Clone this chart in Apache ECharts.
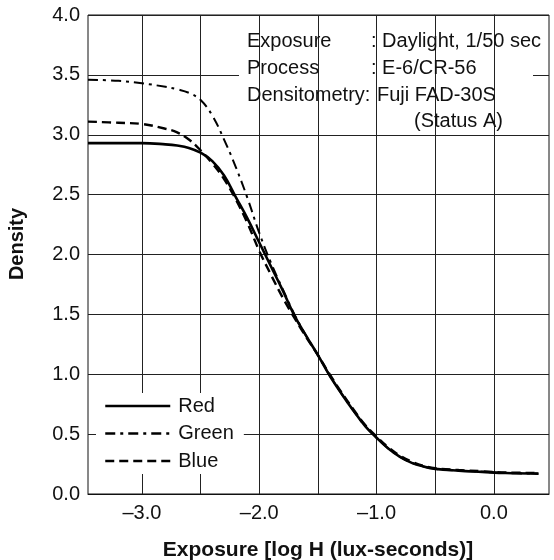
<!DOCTYPE html>
<html>
<head>
<meta charset="utf-8">
<script src="https://cdn.jsdelivr.net/npm/echarts@6/dist/echarts.min.js"></script>
<style>
html,body{margin:0;padding:0;background:#fff;}
#c{width:554px;height:560px;}
</style>
</head>
<body>
<div id="c"></div>
<script>
// ---- data ----
const xVals    = [-3.46, -3.2, -3.0, -2.8, -2.7, -2.6, -2.5, -2.4, -2.3, -2.2, -2.1, -2.0, -1.9, -1.8, -1.7, -1.6, -1.5, -1.4, -1.3, -1.2, -1.1, -1.0, -0.9, -0.8, -0.7, -0.6, -0.5, -0.3, -0.1, 0.1, 0.38];
const redVals  = [2.93, 2.93, 2.93, 2.92, 2.91, 2.89, 2.85, 2.78, 2.66, 2.48, 2.30, 2.10, 1.90, 1.70, 1.49, 1.32, 1.16, 0.99, 0.84, 0.70, 0.57, 0.47, 0.38, 0.31, 0.26, 0.23, 0.21, 0.195, 0.185, 0.175, 0.17];
const greenVals= [3.46, 3.45, 3.43, 3.40, 3.38, 3.35, 3.29, 3.16, 2.96, 2.73, 2.47, 2.18, 1.93, 1.71, 1.50, 1.32, 1.16, 0.99, 0.84, 0.70, 0.57, 0.47, 0.38, 0.31, 0.26, 0.23, 0.21, 0.195, 0.185, 0.175, 0.17];
const blueVals = [3.11, 3.10, 3.09, 3.05, 3.02, 2.96, 2.87, 2.76, 2.63, 2.46, 2.26, 2.03, 1.83, 1.64, 1.47, 1.31, 1.16, 1.00, 0.85, 0.71, 0.58, 0.48, 0.39, 0.32, 0.27, 0.235, 0.215, 0.20, 0.19, 0.18, 0.175];
const seriesNames = ['Red', 'Green', 'Blue'];
const xGridTicks  = [-3.0, -2.5, -2.0, -1.5, -1.0, -0.5, 0.0];
const xLabelTicks = [-3.0, -2.0, -1.0, 0.0];
const xMin = -3.46, xMax = 0.47;
const yMin = 0, yMax = 4.0, yStep = 0.5;
const noteLabels = ['Exposure', 'Process', 'Densitometry:'];
const noteValues = [': Daylight, 1/50 sec', ': E-6/CR-56', 'Fuji FAD-30S', '(Status A)'];
const xTitle = 'Exposure [log H (lux-seconds)]';
const yTitle = 'Density';

const FONT = '"Liberation Sans", Arial, Helvetica, sans-serif';
const fmt = v => (v < 0 ? '\u2013' + Math.abs(v).toFixed(1) : v.toFixed(1));
const pairs = arr => xVals.map((x, i) => [x, arr[i]]);

const chart = echarts.init(document.getElementById('c'), null, {renderer: 'canvas'});
const txt = (text, x, y, extra) => Object.assign({
  type: 'text', z: 20,
  style: Object.assign({text: text, x: x, y: y, font: '20px ' + FONT, fill: '#111', verticalAlign: 'middle'}, extra || {})
});

chart.setOption({
  animation: false,
  backgroundColor: '#fff',
  grid: {left: 88, right: 5, top: 15, bottom: 66, show: true, borderColor: '#111', borderWidth: 1, backgroundColor: 'transparent'},
  xAxis: {
    type: 'value', min: xMin, max: xMax,
    axisLine: {show: true, onZero: false, lineStyle: {color: '#111', width: 1}},
    axisTick: {show: false},
    splitLine: {show: false},
    axisLabel: {
      customValues: xLabelTicks, formatter: v => fmt(v),
      fontFamily: FONT, fontSize: 20, color: '#111', margin: 9
    }
  },
  yAxis: {
    type: 'value', min: yMin, max: yMax, interval: yStep,
    axisLine: {show: true, lineStyle: {color: '#111', width: 1}},
    axisTick: {show: false},
    splitLine: {show: true, lineStyle: {color: '#222', width: 1}},
    axisLabel: {formatter: v => v.toFixed(1), fontFamily: FONT, fontSize: 20, color: '#111', margin: 8}
  },
  legend: {
    data: seriesNames,
    orient: 'vertical', left: 96, top: 393,
    padding: [3, 10, 3, 8],
    itemWidth: 65, itemHeight: 20, itemGap: 7.5,
    backgroundColor: '#fff',
    itemStyle: {color: 'rgba(0,0,0,0)', borderColor: 'rgba(0,0,0,0)', borderWidth: 0, opacity: 0},
    lineStyle: {width: 2.5},
    textStyle: {fontFamily: FONT, fontSize: 20, color: '#111', padding: [0, 0, 0, 3]},
    z: 10
  },
  graphic: [
    {type: 'rect', z: 3, shape: {x: 239, y: 31, width: 294, height: 98}, style: {fill: '#fff'}},
    txt(noteLabels[0], 247, 41),
    txt(noteLabels[1], 247, 68),
    txt(noteLabels[2], 247, 95),
    txt(noteValues[0], 371, 41),
    txt(noteValues[1], 371, 68),
    txt(noteValues[2], 377, 95),
    txt(noteValues[3], 414, 121),
    txt(xTitle, 318, 550, {font: 'bold 21px ' + FONT, align: 'center'}),
    {type: 'text', z: 20, x: 17, y: 244, rotation: Math.PI / 2,
     style: {text: yTitle, x: 0, y: 0, font: 'bold 20px ' + FONT, fill: '#111', align: 'center', verticalAlign: 'middle'}}
  ],
  series: [
    {
      name: 'grid', type: 'line', data: [], z: 1, silent: true,
      markLine: {
        silent: true, symbol: 'none', label: {show: false},
        lineStyle: {color: '#222', width: 1, type: 'solid'},
        data: xGridTicks.map(v => ({xAxis: v}))
      }
    },
    {
      name: seriesNames[0], type: 'line', data: pairs(redVals), smooth: 0.4, symbol: 'none', z: 5,
      lineStyle: {color: '#000', width: 2.6, type: 'solid'}, itemStyle: {color: '#000'}
    },
    {
      name: seriesNames[1], type: 'line', data: pairs(greenVals), smooth: 0.4, symbol: 'none', z: 5,
      lineStyle: {color: '#000', width: 2, type: [10, 5, 3, 5]}, itemStyle: {color: '#000'}
    },
    {
      name: seriesNames[2], type: 'line', data: pairs(blueVals), smooth: 0.4, symbol: 'none', z: 5,
      lineStyle: {color: '#000', width: 2.4, type: [9, 5]}, itemStyle: {color: '#000'}
    }
  ]
});
</script>
</body>
</html>
